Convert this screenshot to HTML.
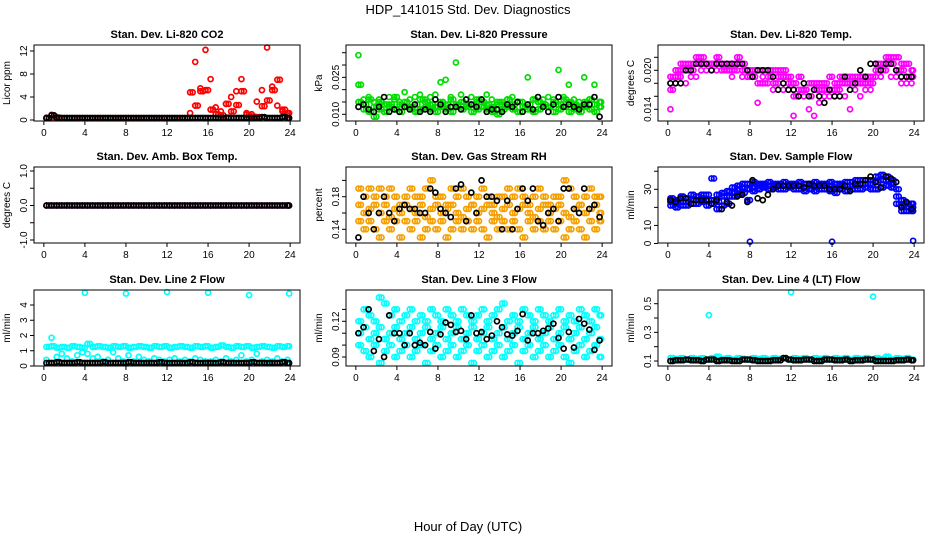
<!DOCTYPE html>
<html><head><meta charset="utf-8">
<style>
html,body{margin:0;padding:0;background:#fff;}
svg{display:block;font-family:"Liberation Sans",sans-serif;}
</style></head>
<body>
<svg id="chart" width="936" height="540" viewBox="0 0 936 540" xmlns="http://www.w3.org/2000/svg">
<text x="468" y="14" text-anchor="middle" font-size="13">HDP_141015  Std. Dev. Diagnostics</text>
<text x="468" y="531" text-anchor="middle" font-size="13">Hour of Day (UTC)</text>
</svg>
<script>
const hours = [0.25,0.75,1.25,1.75,2.25,2.75,3.25,3.75,4.25,4.75,5.25,5.75,6.25,6.75,7.25,7.75,8.25,8.75,9.25,9.75,10.25,10.75,11.25,11.75,12.25,12.75,13.25,13.75,14.25,14.75,15.25,15.75,16.25,16.75,17.25,17.75,18.25,18.75,19.25,19.75,20.25,20.75,21.25,21.75,22.25,22.75,23.25,23.75];
const hoursB = [0.5,1.0,1.5,2.0,2.5,3.0,3.5,4.0,4.5,5.0,5.5,6.0,6.5,7.0,7.5,8.0,8.5,9.0,9.5,10.0,10.5,11.0,11.5,12.0,12.5,13.0,13.5,14.0,14.5,15.0,15.5,16.0,16.5,17.0,17.5,18.0,18.5,19.0,19.5,20.0,20.5,21.0,21.5,22.0,22.5,23.0,23.5,23.9];
const xTicks = [0,4,8,12,16,20,24];

// CO2
const co2A = [0.4,0.9,0.5,0.3,0.3,0.3,0.3,0.3,0.3,0.3,0.3,0.3,0.3,0.3,0.3,0.3,0.3,0.3,0.3,0.3,0.3,0.3,0.3,0.3,0.3,0.3,0.3,0.3,1.2,10.1,5.5,12.2,7.1,2.2,1.5,2.8,4.0,5.0,7.1,1.2,1.0,3.2,5.2,12.6,5.8,2.5,1.5,0.8];
const co2B = [0.3,0.3,0.3,0.3,0.3,0.3,0.3,0.3,0.3,0.3,0.3,0.3,0.3,0.3,0.3,0.3,0.3,0.3,0.3,0.3,0.3,0.3,0.3,0.3,0.3,0.3,0.3,0.3,4.8,2.5,5.0,5.2,1.8,1.0,0.8,2.8,1.5,2.6,5.0,0.9,0.6,0.5,2.4,3.4,5.2,7.0,1.8,1.2];
const co2K = [0.35,0.8,0.4,0.35,0.35,0.35,0.35,0.35,0.35,0.35,0.35,0.35,0.35,0.35,0.35,0.35,0.35,0.35,0.35,0.35,0.35,0.35,0.35,0.35,0.35,0.35,0.35,0.35,0.35,0.35,0.35,0.35,0.35,0.35,0.35,0.4,0.35,0.35,0.35,0.35,0.35,0.35,0.5,0.35,0.35,0.35,0.5,0.35];
const co2Ticks = [0,4,8,12];
// Pressure
const presA = [0.034,0.016,0.017,0.015,0.016,0.014,0.017,0.016,0.015,0.019,0.016,0.017,0.018,0.016,0.017,0.018,0.023,0.024,0.017,0.031,0.018,0.016,0.017,0.015,0.016,0.018,0.016,0.014,0.015,0.016,0.017,0.015,0.015,0.025,0.016,0.015,0.016,0.017,0.016,0.028,0.017,0.022,0.016,0.015,0.025,0.016,0.022,0.015];
const presB = [0.022,0.012,0.011,0.013,0.012,0.011,0.014,0.012,0.011,0.013,0.012,0.011,0.012,0.013,0.012,0.011,0.013,0.012,0.011,0.013,0.012,0.014,0.011,0.012,0.013,0.012,0.011,0.010,0.012,0.013,0.012,0.011,0.013,0.012,0.011,0.012,0.014,0.013,0.011,0.012,0.013,0.011,0.012,0.011,0.013,0.012,0.011,0.013];
const presC = [0.015,0.014,0.016,0.009,0.015,0.014,0.013,0.017,0.014,0.015,0.013,0.014,0.016,0.015,0.014,0.013,0.015,0.014,0.016,0.014,0.015,0.013,0.014,0.016,0.015,0.014,0.013,0.015,0.014,0.016,0.014,0.015,0.013,0.014,0.016,0.015,0.014,0.013,0.015,0.014,0.016,0.015,0.014,0.013,0.015,0.016,0.014,0.015];
const presK = [0.013,0.014,0.012,0.011,0.013,0.017,0.011,0.012,0.011,0.013,0.012,0.014,0.011,0.012,0.011,0.016,0.014,0.011,0.013,0.013,0.012,0.016,0.014,0.013,0.016,0.011,0.012,0.012,0.011,0.014,0.013,0.015,0.011,0.014,0.012,0.017,0.013,0.011,0.014,0.017,0.013,0.014,0.013,0.012,0.014,0.014,0.017,0.009];
const presTicks = [0.010,0.015,0.020,0.025,0.030,0.035];
const presLabels = ["0.010","","","0.025","",""];
// Temp
const tempA = [0.019,0.020,0.021,0.021,0.021,0.022,0.022,0.021,0.021,0.022,0.021,0.021,0.021,0.022,0.021,0.020,0.020,0.020,0.020,0.020,0.020,0.020,0.020,0.019,0.018,0.019,0.017,0.018,0.018,0.018,0.017,0.019,0.018,0.019,0.019,0.019,0.019,0.019,0.019,0.019,0.021,0.021,0.022,0.022,0.022,0.021,0.021,0.020];
const tempB = [0.014,0.018,0.019,0.018,0.019,0.019,0.020,0.020,0.020,0.020,0.020,0.020,0.019,0.020,0.019,0.019,0.019,0.015,0.019,0.018,0.017,0.018,0.017,0.017,0.013,0.016,0.016,0.014,0.013,0.015,0.016,0.016,0.016,0.017,0.016,0.014,0.017,0.016,0.017,0.017,0.019,0.019,0.020,0.019,0.019,0.018,0.018,0.018];
const tempC = [0.017,0.019,0.020,0.020,0.020,0.021,0.021,0.021,0.021,0.021,0.020,0.020,0.020,0.021,0.020,0.019,0.019,0.018,0.018,0.019,0.018,0.019,0.019,0.018,0.016,0.017,0.017,0.016,0.017,0.017,0.018,0.017,0.017,0.018,0.018,0.018,0.018,0.018,0.018,0.018,0.020,0.020,0.021,0.021,0.020,0.020,0.019,0.019];
const tempK = [0.018,0.018,0.018,0.020,0.020,0.021,0.021,0.021,0.020,0.021,0.021,0.021,0.021,0.021,0.021,0.020,0.019,0.020,0.020,0.020,0.019,0.017,0.018,0.017,0.017,0.016,0.018,0.016,0.017,0.016,0.015,0.017,0.016,0.016,0.019,0.017,0.018,0.020,0.019,0.021,0.021,0.020,0.021,0.021,0.020,0.019,0.019,0.019];
const tempTicks = [0.014,0.016,0.018,0.020,0.022];
const tempLabels = ["0.014","","","0.020",""];
// Amb box temp
const ambA = [0,0,0,0,0,0,0,0,0,0,0,0,0,0,0,0,0,0,0,0,0,0,0,0,0,0,0,0,0,0,0,0,0,0,0,0,0,0,0,0,0,0,0,0,0,0,0,0];
const ambK = [0,0,0,0,0,0,0,0,0,0,0,0,0,0,0,0,0,0,0,0,0,0,0,0,0,0,0,0,0,0,0,0,0,0,0,0,0,0,0,0,0,0,0,0,0,0,0,0];
const ambTicks = [-1,-0.5,0,0.5,1];
const ambLabels = ["-1.0","","0.0","","1.0"];
// RH
const rhA = [0.19,0.18,0.19,0.18,0.19,0.18,0.19,0.18,0.17,0.18,0.19,0.18,0.18,0.19,0.20,0.18,0.18,0.17,0.19,0.18,0.19,0.18,0.17,0.18,0.19,0.18,0.17,0.18,0.18,0.19,0.18,0.19,0.18,0.17,0.18,0.19,0.18,0.17,0.18,0.18,0.20,0.19,0.18,0.17,0.18,0.19,0.18,0.18];
const rhB = [0.15,0.14,0.15,0.14,0.13,0.15,0.14,0.15,0.13,0.15,0.14,0.15,0.13,0.14,0.15,0.14,0.15,0.13,0.14,0.15,0.14,0.15,0.14,0.15,0.14,0.13,0.15,0.14,0.15,0.14,0.15,0.14,0.13,0.15,0.14,0.15,0.14,0.15,0.14,0.15,0.13,0.14,0.15,0.14,0.13,0.15,0.14,0.15];
const rhC = [0.17,0.16,0.165,0.17,0.16,0.17,0.155,0.165,0.16,0.17,0.165,0.16,0.17,0.155,0.165,0.17,0.16,0.165,0.17,0.16,0.155,0.165,0.17,0.16,0.165,0.17,0.16,0.155,0.165,0.17,0.16,0.165,0.17,0.16,0.155,0.165,0.17,0.16,0.165,0.17,0.16,0.155,0.165,0.17,0.16,0.165,0.17,0.16];
const rhK = [0.13,0.18,0.16,0.14,0.16,0.18,0.16,0.15,0.165,0.17,0.165,0.165,0.16,0.16,0.19,0.185,0.165,0.16,0.155,0.19,0.195,0.15,0.185,0.16,0.20,0.18,0.18,0.175,0.14,0.175,0.14,0.165,0.19,0.175,0.19,0.15,0.145,0.16,0.165,0.15,0.19,0.19,0.165,0.16,0.19,0.165,0.17,0.155];
const rhTicks = [0.14,0.16,0.18,0.20];
const rhLabels = ["0.14","","0.18",""];
// Sample flow
const sfA = [25,24,26,25,27,26,27,27,36,27,28,29,31,32,33,33,34,33,33,34,33,33,34,33,33,34,33,33,34,33,33,34,33,33,34,34,35,35,35,35,37,38,37,35,30,24,22,22];
const sfB = [21,20,21,21,22,22,23,21,22,19,21,22,26,27,28,24,29,30,31,30,31,30,30,31,30,30,29,30,29,30,30,29,28,30,29,30,30,30,31,30,30,31,32,31,22,18,18,18];
const sfC = [23,22,23,23,24,24,25,24,24,23,26,26,28,30,31,30,31,32,32,32,32,32,32,32,32,32,31,32,31,32,32,32,31,32,32,32,32,33,33,33,34,35,35,33,26,21,20,20];
const sfK = [24,23,25,25,22,24,24,24,22,24,19,23,21,26,27,23,35,25,24,27,30,32,32,32,32,32,31,33,32,32,32,30,30,30,32,29,33,33,35,37,34,31,37,36,34,20,23,19];
const sfOutHours = [8,16,23.9];
const sfOut = [1,1,1.5];
const sfTicks = [0,10,20,30,40];
const sfLabels = ["0","10","","30",""];
// Line 2
const l2A = [1.25,1.3,1.2,1.25,1.2,1.3,1.25,1.2,1.45,1.25,1.3,1.25,1.2,1.3,1.25,1.3,1.2,1.25,1.3,1.25,1.2,1.3,1.25,1.3,1.2,1.25,1.3,1.25,1.2,1.3,1.25,1.3,1.2,1.25,1.35,1.25,1.2,1.3,1.25,1.3,1.2,1.25,1.3,1.25,1.2,1.3,1.25,1.3];
const l2B = [0.4,1.85,0.6,0.8,0.5,0.3,0.7,0.9,0.8,0.5,0.6,0.3,0.4,0.9,0.5,0.3,0.7,0.3,0.6,0.4,0.3,0.5,0.4,0.3,0.4,0.5,0.3,0.4,0.3,0.5,0.4,0.3,0.3,0.4,0.3,0.5,0.3,0.4,0.7,0.3,0.4,0.8,0.3,0.4,0.3,0.5,0.3,0.4];
const l2K = [0.2,0.2,0.25,0.2,0.2,0.2,0.25,0.2,0.2,0.2,0.2,0.25,0.2,0.2,0.2,0.2,0.25,0.2,0.2,0.2,0.2,0.2,0.25,0.2,0.2,0.2,0.2,0.2,0.25,0.2,0.2,0.2,0.2,0.2,0.25,0.2,0.2,0.2,0.2,0.2,0.25,0.2,0.2,0.2,0.2,0.2,0.25,0.2];
const l2OutHours = [4,8,12,16,20,23.9];
const l2Out = [4.8,4.75,4.85,4.8,4.65,4.75];
const l2Ticks = [0,1,2,3,4];
// Line 3
const l3A = [0.12,0.13,0.125,0.12,0.14,0.135,0.125,0.13,0.12,0.125,0.13,0.12,0.125,0.12,0.13,0.125,0.12,0.13,0.125,0.12,0.13,0.125,0.12,0.125,0.13,0.12,0.125,0.13,0.135,0.12,0.125,0.12,0.13,0.125,0.12,0.13,0.125,0.12,0.125,0.13,0.12,0.125,0.12,0.13,0.125,0.12,0.13,0.125];
const l3B = [0.10,0.095,0.09,0.10,0.085,0.095,0.10,0.09,0.095,0.10,0.09,0.095,0.10,0.085,0.095,0.10,0.09,0.095,0.10,0.09,0.095,0.10,0.085,0.095,0.10,0.09,0.095,0.10,0.09,0.095,0.10,0.085,0.095,0.10,0.09,0.095,0.10,0.09,0.095,0.10,0.09,0.085,0.095,0.10,0.09,0.095,0.10,0.09];
const l3C = [0.11,0.115,0.105,0.11,0.115,0.105,0.11,0.115,0.105,0.11,0.115,0.105,0.11,0.115,0.105,0.11,0.115,0.105,0.11,0.115,0.105,0.11,0.115,0.105,0.11,0.115,0.105,0.11,0.115,0.105,0.11,0.115,0.105,0.11,0.115,0.105,0.11,0.115,0.105,0.11,0.115,0.105,0.11,0.115,0.105,0.11,0.115,0.105];
const l3K = [0.11,0.115,0.13,0.095,0.105,0.09,0.125,0.11,0.11,0.10,0.11,0.10,0.102,0.10,0.111,0.097,0.109,0.119,0.117,0.111,0.112,0.105,0.125,0.11,0.111,0.105,0.108,0.12,0.115,0.109,0.108,0.112,0.126,0.104,0.11,0.11,0.112,0.114,0.118,0.106,0.097,0.111,0.098,0.122,0.118,0.113,0.096,0.104];
const l3Ticks = [0.09,0.10,0.11,0.12,0.13];
const l3Labels = ["0.09","","","0.12",""];
// Line 4
const l4A = [0.12,0.115,0.12,0.11,0.12,0.115,0.12,0.11,0.12,0.13,0.115,0.12,0.11,0.12,0.115,0.11,0.12,0.115,0.12,0.11,0.12,0.115,0.12,0.11,0.12,0.115,0.12,0.11,0.12,0.115,0.12,0.11,0.12,0.115,0.12,0.11,0.12,0.115,0.12,0.11,0.12,0.115,0.13,0.11,0.12,0.115,0.12,0.11];
const l4K = [0.1,0.105,0.105,0.11,0.105,0.105,0.1,0.11,0.11,0.1,0.105,0.105,0.1,0.1,0.11,0.11,0.105,0.1,0.1,0.1,0.105,0.105,0.12,0.11,0.105,0.105,0.11,0.11,0.1,0.1,0.11,0.11,0.105,0.105,0.11,0.1,0.105,0.105,0.11,0.11,0.1,0.1,0.1,0.1,0.105,0.105,0.11,0.105];
const l4OutHours = [4,12,20];
const l4Out = [0.42,0.58,0.55];
const l4Ticks = [0.1,0.2,0.3,0.4,0.5];
const l4Labels = ["0.1","","0.3","","0.5"];

const NS = "http://www.w3.org/2000/svg";
const svg = document.getElementById('chart');
function el(tag, attrs, parent){const e=document.createElementNS(NS,tag);for(const k in attrs)e.setAttribute(k,attrs[k]);(parent||svg).appendChild(e);return e;}

const cols = [34,346,658], rows = [45,167,290], W = 266, H = 76;
const panels = [
 {name:'co2',title:'Stan. Dev. Li-820 CO2',yl:'Licor ppm',c:0,r:0,ref:[0,120,12,51],ticks:co2Ticks,labels:co2Ticks.map(String),
  series:[[hours,co2A,'#ff0000'],[hours,co2B,'#ff0000'],[hoursB,co2B,'#ff0000'],[hours,co2K,'#000'],[hoursB,co2K,'#000']]},
 {name:'pressure',title:'Stan. Dev. Li-820 Pressure',yl:'kPa',c:1,r:0,ref:[0.010,114.3,0.035,52.7],ticks:presTicks,labels:presLabels,
  series:[[hours,presA,'#00dd00'],[hoursB,presB,'#00dd00'],[hours,presB,'#00dd00'],[hoursB,presC,'#00dd00'],[hours,presC,'#00dd00'],[hours,presK,'#000']]},
 {name:'temp',title:'Stan. Dev. Li-820 Temp.',yl:'degrees C',c:2,r:0,ref:[0.014,109.3,0.020,70.3],ticks:tempTicks,labels:tempLabels,
  series:[[hours,tempA,'#ff00ff'],[hoursB,tempA,'#ff00ff'],[hours,tempB,'#ff00ff'],[hoursB,tempC,'#ff00ff'],[hours,tempC,'#ff00ff'],[hours,tempK,'#000']]},
 {name:'amb-temp',title:'Stan. Dev. Amb. Box Temp.',yl:'degrees C',c:0,r:1,ref:[-1,240,1,171],ticks:ambTicks,labels:ambLabels,
  series:[[hours,ambA,'#ff00ff'],[hours,ambK,'#000'],[hoursB,ambK,'#000']]},
 {name:'rh',title:'Stan. Dev. Gas Stream RH',yl:'percent',c:1,r:1,ref:[0.14,229.3,0.18,196.7],ticks:rhTicks,labels:rhLabels,
  series:[[hours,rhA,'#f5a000'],[hoursB,rhA,'#f5a000'],[hours,rhB,'#f5a000'],[hoursB,rhB,'#f5a000'],[hours,rhC,'#f5a000'],[hoursB,rhC,'#f5a000'],[hours,rhK,'#000']]},
 {name:'sample-flow',title:'Stan. Dev. Sample Flow',yl:'ml/min',c:2,r:1,ref:[0,243.5,30,189.3],ticks:sfTicks,labels:sfLabels,
  series:[[hours,sfA,'#0000ff'],[hoursB,sfA,'#0000ff'],[hours,sfB,'#0000ff'],[hoursB,sfB,'#0000ff'],[hours,sfC,'#0000ff'],[hoursB,sfC,'#0000ff'],[sfOutHours,sfOut,'#0000ff'],[hours,sfK,'#000']]},
 {name:'line2',title:'Stan. Dev. Line 2 Flow',yl:'ml/min',c:0,r:2,ref:[0,366,4,305],ticks:l2Ticks,labels:l2Ticks.map(String),
  series:[[hours,l2A,'#00ffff'],[hoursB,l2A,'#00ffff'],[hours,l2B,'#00ffff'],[l2OutHours,l2Out,'#00ffff'],[hours,l2K,'#000'],[hoursB,l2K,'#000']]},
 {name:'line3',title:'Stan. Dev. Line 3 Flow',yl:'ml/min',c:1,r:2,ref:[0.09,357,0.12,321.3],ticks:l3Ticks,labels:l3Labels,
  series:[[hours,l3A,'#00ffff'],[hoursB,l3A,'#00ffff'],[hours,l3B,'#00ffff'],[hoursB,l3B,'#00ffff'],[hours,l3C,'#00ffff'],[hoursB,l3C,'#00ffff'],[hours,l3K,'#000']]},
 {name:'line4',title:'Stan. Dev. Line 4 (LT) Flow',yl:'ml/min',c:2,r:2,ref:[0.1,361,0.5,303.7],ticks:l4Ticks,labels:l4Labels,
  series:[[hours,l4A,'#00ffff'],[hoursB,l4A,'#00ffff'],[l4OutHours,l4Out,'#00ffff'],[hours,l4K,'#000'],[hoursB,l4K,'#000']]}
];

panels.forEach(p=>{
  const x0=cols[p.c], y0=rows[p.r];
  const g=el('g',{});
  
  
  const xs = h => x0 + 9.85 + h*(W-19.7)/24;
  const [v0,p0,v1,p1]=p.ref;
  const ys = v => p0 + (v-v0)*(p1-p0)/(v1-v0);
  const t=el('text',{x:x0+W/2,y:y0-7,'text-anchor':'middle','font-size':11,'font-weight':'bold'},g);
  t.textContent=p.title;
  
  
  const yl=el('text',{x:0,y:0,'text-anchor':'middle','font-size':10,transform:`translate(${x0-24},${y0+H/2}) rotate(-90)`},g);
  yl.textContent=p.yl;
  
  
  p.series.forEach(s=>{
    const [xx,vv,col]=s;
    vv.forEach((v,i)=>{
      const c=el('circle',{cx:xs(xx[i]),cy:ys(v),r:2.5,fill:'none',stroke:col,'stroke-width':1.7},g);
      
      
    });
  });
  const box=el('rect',{x:x0,y:y0,width:W,height:H,fill:'none',stroke:'#000','stroke-width':1},g);
  
  
  const by=y0+H;
  el('line',{x1:xs(0),x2:xs(24),y1:by,y2:by,stroke:'#000'},g);
  xTicks.forEach(h=>{
    el('line',{x1:xs(h),x2:xs(h),y1:by,y2:by+4,stroke:'#000'},g);
    const tl=el('text',{x:xs(h),y:by+15,'text-anchor':'middle','font-size':10},g);
    tl.textContent=h;
    
    
  });
  p.ticks.forEach((v,i)=>{
    const y=ys(v);
    el('line',{x1:x0-4,x2:x0,y1:y,y2:y,stroke:'#000'},g);
    if(p.labels[i]){
      const tl=el('text',{x:0,y:0,'text-anchor':'middle','font-size':10,transform:`translate(${x0-7},${y}) rotate(-90)`},g);
      tl.textContent=p.labels[i];
      
      
    }
  });
});
</script>
</body></html>
